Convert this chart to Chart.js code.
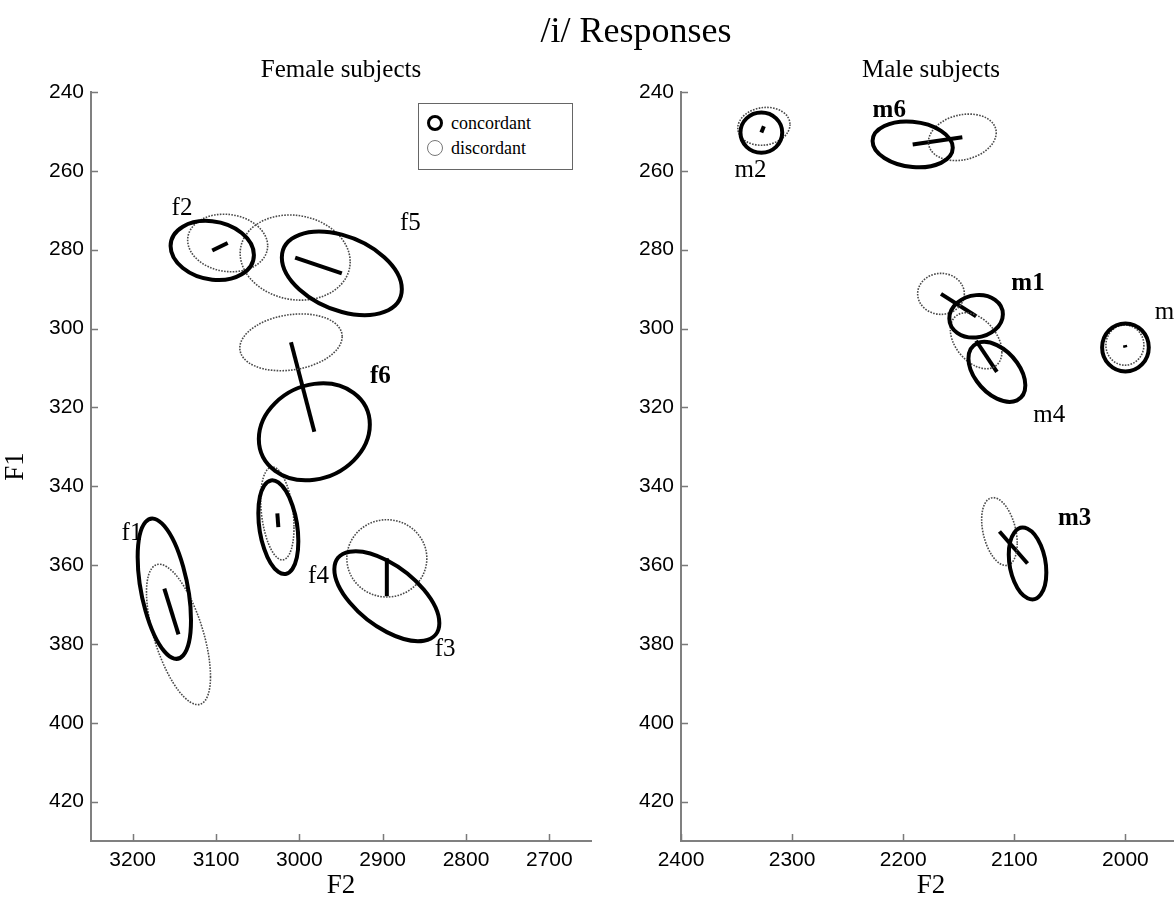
<!DOCTYPE html>
<html>
<head>
<meta charset="utf-8">
<script src="https://cdn.jsdelivr.net/npm/chart.js@4.4.1/dist/chart.umd.min.js"></script>
<style>
  html, body { margin:0; padding:0; background:#fff; width:1174px; height:905px; overflow:hidden; }
  #wrap { position:relative; width:1174px; height:905px; overflow:hidden; }
  canvas { position:absolute; top:0; }
  .txt { position:absolute; font-family:"Liberation Serif","Times New Roman",serif; color:#000; white-space:nowrap; transform:translate(-50%,-50%); line-height:1; }
  #legend { position:absolute; left:418px; top:103px; width:155px; height:67px; border:1.5px solid #666; background:#fff; box-sizing:border-box; font-family:"Liberation Serif",serif; font-size:18px; }
  .li { position:absolute; left:8px; height:20px; line-height:20px; }
  .mk { position:absolute; left:0; top:2px; width:16px; height:16px; border-radius:50%; box-sizing:border-box; }
  .lt { position:absolute; left:24px; top:0; }
</style>
</head>
<body>
<div id="wrap">
  <canvas id="female" width="640" height="905" style="left:0px"></canvas>
  <canvas id="male" width="640" height="905" style="left:591px"></canvas>
  <div class="txt" style="left:636px; top:30px; font-size:36px;">/i/ Responses</div>
  <div class="txt" style="left:341px; top:68px; font-size:25px;">Female subjects</div>
  <div class="txt" style="left:931px; top:68px; font-size:25px;">Male subjects</div>
  <div id="legend">
    <div class="li" style="top:9px"><div class="mk" style="border:3.5px solid #000"></div><div class="lt">concordant</div></div>
    <div class="li" style="top:34px"><div class="mk" style="border:1px solid #777"></div><div class="lt">discordant</div></div>
  </div>
</div>
<script>
// ---------- Data ----------
const yTicks = [240, 260, 280, 300, 320, 340, 360, 380, 400, 420];
const femaleXTicks = [3200, 3100, 3000, 2900, 2800, 2700];
const maleXTicks = [2400, 2300, 2200, 2100, 2000];

// Female subjects: concordant ellipses (centre F2, centre F1, half-width in F2, half-height in F1, correlation)
const femaleNames = ['f1', 'f2', 'f3', 'f4', 'f5', 'f6'];
const femaleBold = [false, false, false, false, false, true];
const femaleConcF2 = [3162, 3104.5, 2895, 3025.2, 2949, 2982];
const femaleConcF1 = [366, 280.2, 367.9, 350.4, 286, 326.2];
const femaleConcSdF2 = [32, 50, 63, 24, 72, 66.6];
const femaleConcSdF1 = [17.8, 7.5, 11.4, 11.9, 10.6, 12.3];
const femaleConcRho = [-0.45, -0.15, -0.6, -0.3, -0.38, 0.15];
// Female subjects: discordant ellipses
const femaleDiscF2 = [3145, 3086, 2895, 3026.4, 3005, 3010];
const femaleDiscF1 = [377.6, 278.3, 358.3, 346.9, 282, 303.5];
const femaleDiscSdF2 = [38.4, 48, 48, 20, 66, 61.4];
const femaleDiscSdF1 = [17.8, 7.3, 9.8, 11.8, 10.8, 7.2];
const femaleDiscRho = [-0.6, -0.1, 0, -0.3, -0.1, 0.2];
// Female label anchors
const femaleLabelF2 = [3200.8, 3140.8, 2825, 2977, 2866.8, 2902.8];
const femaleLabelF1 = [352, 269.5, 381.5, 363, 273.3, 312.3];

// Male subjects
const maleNames = ['m1', 'm2', 'm3', 'm4', 'm5', 'm6'];
const maleBold = [true, false, true, false, false, true];
const maleConcF2 = [2134.4, 2327.7, 2088.1, 2115.7, 2000, 2191.5];
const maleConcF1 = [296.9, 250.3, 359.6, 311, 304.8, 253.3];
const maleConcSdF2 = [24.1, 18.8, 16.9, 25.6, 21, 36.1];
const maleConcSdF1 = [5.4, 5.1, 9.1, 7.6, 6.1, 5.8];
const maleConcRho = [0.1, 0, -0.25, -0.45, 0, -0.15];
const maleDiscF2 = [2166, 2325.4, 2113.4, 2134.4, 2000.5, 2146.8];
const maleDiscF1 = [291.2, 248.7, 351.5, 303.1, 304.2, 251.5];
const maleDiscSdF2 = [21, 23.5, 16, 23.2, 17.1, 30.5];
const maleDiscSdF1 = [5.2, 4.8, 8.6, 7.1, 5.1, 5.9];
const maleDiscRho = [0, 0.1, -0.35, -0.4, 0, 0.2];
const maleLabelF2 = [2087.7, 2337.5, 2045.7, 2068.5, 1973.7, 2212.6];
const maleLabelF1 = [288.6, 259.8, 348.2, 322, 295.8, 244.6];
const maleLabelAlign = ['center', 'center', 'center', 'center', 'left', 'center'];

// ---------- Plugins ----------
const ellipsePlugin = {
  id: 'ellipses',
  afterDatasetsDraw(chart) {
    const ctx = chart.ctx, xs = chart.scales.x, ys = chart.scales.y;
    const area = chart.chartArea;
    ctx.save();
    ctx.beginPath();
    ctx.rect(area.left, area.top - 5, area.right - area.left + 10, area.bottom - area.top + 5);
    ctx.clip();
    chart.data.datasets.forEach((ds, di) => {
      if (!ds.ellipse) return;
      const meta = chart.getDatasetMeta(di);
      meta.data.forEach((pt, i) => {
        const c = ds.data[i];
        const sxp = Math.abs(xs.getPixelForValue(c.x + ds.sdF2[i]) - pt.x);
        const syp = Math.abs(ys.getPixelForValue(c.y + ds.sdF1[i]) - pt.y);
        const sx = Math.sign(xs.getPixelForValue(c.x + 1) - pt.x);
        const sy = Math.sign(ys.getPixelForValue(c.y + 1) - pt.y);
        const r = ds.rho[i] * sx * sy;
        ctx.save();
        ctx.beginPath();
        ctx.save();
        ctx.transform(sxp, syp * r, 0, syp * Math.sqrt(1 - r * r), pt.x, pt.y);
        ctx.arc(0, 0, 1, 0, Math.PI * 2);
        ctx.restore();
        ctx.strokeStyle = ds.ellColor;
        ctx.lineWidth = ds.ellWidth;
        ctx.setLineDash(ds.ellDash);
        ctx.stroke();
        ctx.restore();
      });
    });
    ctx.restore();
  }
};

const labelPlugin = {
  id: 'subjLabels',
  afterDraw(chart, args, opts) {
    const ctx = chart.ctx, xs = chart.scales.x, ys = chart.scales.y;
    ctx.save();
    ctx.fillStyle = '#000';
    ctx.textBaseline = 'middle';
    opts.names.forEach((n, i) => {
      ctx.font = (opts.bold[i] ? 'bold ' : '') + '25px "Liberation Serif"';
      ctx.textAlign = opts.align ? opts.align[i] : 'center';
      ctx.fillText(n, xs.getPixelForValue(opts.f2[i]), ys.getPixelForValue(opts.f1[i]));
    });
    ctx.restore();
  }
};

const innerTickPlugin = {
  id: 'innerTicks',
  afterDraw(chart) {
    const ctx = chart.ctx, xs = chart.scales.x, ys = chart.scales.y, a = chart.chartArea;
    ctx.save();
    ctx.strokeStyle = '#7a7a7a';
    ctx.lineWidth = 1.5;
    ctx.beginPath();
    xs.ticks.forEach(t => {
      const px = Math.round(xs.getPixelForValue(t.value)) + 0.5;
      ctx.moveTo(px, a.bottom); ctx.lineTo(px, a.bottom - 7);
    });
    ys.ticks.forEach(t => {
      const py = Math.round(ys.getPixelForValue(t.value)) + 0.5;
      ctx.moveTo(a.left, py); ctx.lineTo(a.left + 7, py);
    });
    ctx.stroke();
    ctx.restore();
  }
};

// ---------- Builders ----------
function centres(f2, f1) { return f2.map((v, i) => ({ x: v, y: f1[i] })); }

function buildDatasets(cF2, cF1, cSx, cSy, cR, dF2, dF1, dSx, dSy, dR) {
  const sets = [];
  sets.push({ label: 'discordant', data: centres(dF2, dF1), ellipse: true, sdF2: dSx, sdF1: dSy, rho: dR,
    ellColor: '#4a4a4a', ellWidth: 1.6, ellDash: [1.6, 1.3], pointRadius: 0, showLine: false });
  sets.push({ label: 'concordant', data: centres(cF2, cF1), ellipse: true, sdF2: cSx, sdF1: cSy, rho: cR,
    ellColor: '#000', ellWidth: 4, ellDash: [], pointRadius: 0, showLine: false });
  cF2.forEach((v, i) => {
    sets.push({ label: 'shift' + i, data: [{ x: dF2[i], y: dF1[i] }, { x: v, y: cF1[i] }],
      showLine: true, borderColor: '#000', borderWidth: 4, pointRadius: 0, borderCapStyle: 'butt', fill: false });
  });
  return sets;
}

function axisConfig(xMin, xMax, xTicks, yWidth, showYTitle) {
  const tickFont = { family: 'Liberation Sans', size: 21 };
  const plain = v => String(v);
  return {
    x: {
      type: 'linear', min: xMin, max: xMax, reverse: true,
      grid: { display: false, drawTicks: false },
      border: { display: true, color: '#808080', width: 2 },
      ticks: { color: '#000', font: tickFont, padding: 7, callback: plain },
      afterBuildTicks: s => { s.ticks = xTicks.map(v => ({ value: v })); },
      afterFit: s => { s.height = 64; },
      title: { display: true, text: 'F2', color: '#000', font: { family: 'Liberation Serif', size: 27 }, padding: { top: 0, bottom: 3 } }
    },
    y: {
      type: 'linear', min: 240, max: 430, reverse: true,
      grid: { display: false, drawTicks: false },
      border: { display: true, color: '#808080', width: 2 },
      ticks: { color: '#000', font: tickFont, padding: 7, callback: plain },
      afterBuildTicks: s => { s.ticks = yTicks.map(v => ({ value: v })); },
      afterFit: s => { s.width = yWidth; },
      title: { display: showYTitle, text: 'F1', color: '#000', font: { family: 'Liberation Serif', size: 27 }, padding: { top: 0, bottom: 8 } }
    }
  };
}

function makeChart(id, datasets, scales, labelOpts, padRight) {
  return new Chart(document.getElementById(id), {
    type: 'scatter',
    data: { datasets },
    options: {
      responsive: false, maintainAspectRatio: false, animation: false, devicePixelRatio: 1,
      layout: { padding: { left: 0, right: padRight, top: 92, bottom: 0 } },
      scales,
      plugins: { legend: { display: false }, tooltip: { enabled: false }, subjLabels: labelOpts }
    },
    plugins: [ellipsePlugin, labelPlugin, innerTickPlugin]
  });
}

makeChart('female',
  buildDatasets(femaleConcF2, femaleConcF1, femaleConcSdF2, femaleConcSdF1, femaleConcRho,
                femaleDiscF2, femaleDiscF1, femaleDiscSdF2, femaleDiscSdF1, femaleDiscRho),
  axisConfig(2650, 3250, femaleXTicks, 91, true),
  { names: femaleNames, bold: femaleBold, f2: femaleLabelF2, f1: femaleLabelF1 },
  49);

makeChart('male',
  buildDatasets(maleConcF2, maleConcF1, maleConcSdF2, maleConcSdF1, maleConcRho,
                maleDiscF2, maleDiscF1, maleDiscSdF2, maleDiscSdF1, maleDiscRho),
  axisConfig(1950, 2400, maleXTicks, 90, false),
  { names: maleNames, bold: maleBold, f2: maleLabelF2, f1: maleLabelF1, align: maleLabelAlign },
  50);
</script>
</body>
</html>
